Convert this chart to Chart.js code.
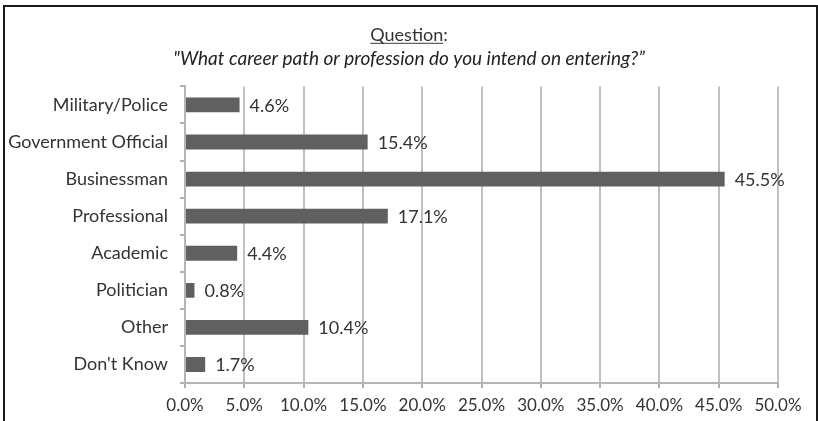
<!DOCTYPE html>
<html>
<head>
<meta charset="utf-8">
<script src="https://cdn.jsdelivr.net/npm/chart.js@4/dist/chart.umd.min.js"></script>
<style>
  html, body { margin: 0; padding: 0; background: #fff; }
  #wrap { position: relative; width: 818px; height: 421px; overflow: hidden; }
  #frame {
    position: absolute; left: 3px; top: 5px; width: 811px; height: 430px;
    border-left: 2px solid #1a1a1a; border-top: 2px solid #1a1a1a; border-right: 2px solid #1a1a1a;
    pointer-events: none;
  }
  canvas { position: absolute; left: 0; top: 0; }
</style>
</head>
<body>
<div id="wrap">
  <canvas id="c" width="818" height="421"></canvas>
  <div id="frame"></div>
</div>
<script>
// Survey answers, share of respondents (%)
const categories = ['Military/Police', 'Government Official', 'Businessman', 'Professional',
                    'Academic', 'Politician', 'Other', "Don't Know"];
const shares = [4.6, 15.4, 45.5, 17.1, 4.4, 0.8, 10.4, 1.7];
const titleText = 'Question:';
const subtitleText = '"What career path or profession do you intend on entering?\u201D';
const axisMax = 50;
const axisStep = 5;

const FONT = 'Lato, "Open Sans", sans-serif';
const TITLE_SIZE = 18;

// Center the title and subtitle on the whole canvas rather than the padded area
const centerTitles = {
  id: 'centerTitles',
  afterLayout(chart) {
    chart.boxes.forEach(box => {
      if (box.position === 'top' && box.options && box.options.text !== undefined) {
        box.left = 0;
        box.right = chart.width;
      }
    });
  }
};

// Value labels to the right of each bar
const valueLabels = {
  id: 'valueLabels',
  afterDatasetsDraw(chart) {
    const ctx = chart.ctx;
    const meta = chart.getDatasetMeta(0);
    ctx.save();
    ctx.font = '18px ' + FONT;
    ctx.fillStyle = '#333';
    ctx.textBaseline = 'middle';
    ctx.textAlign = 'left';
    meta.data.forEach((bar, i) => {
      ctx.fillText(shares[i].toFixed(1) + '%', bar.x + 10, bar.y + 1);
    });
    ctx.restore();
  }
};

// Underline beneath the word "Question"
const titleUnderline = {
  id: 'titleUnderline',
  afterDraw(chart) {
    const t = chart.titleBlock;
    if (!t) return;
    const ctx = chart.ctx;
    ctx.save();
    ctx.font = TITLE_SIZE + 'px ' + FONT;
    const word = titleText.replace(':', '');
    const full = ctx.measureText(titleText).width;
    const w = ctx.measureText(word).width;
    const x0 = (t.left + t.right) / 2 - full / 2;
    const y = t.top + t.height / 2 + 9;
    ctx.strokeStyle = '#3a3a3a';
    ctx.lineWidth = 1;
    ctx.beginPath();
    ctx.moveTo(x0, y + 0.5);
    ctx.lineTo(x0 + w, y + 0.5);
    ctx.stroke();
    ctx.restore();
  }
};

new Chart(document.getElementById('c'), {
  type: 'bar',
  data: {
    labels: categories,
    datasets: [{
      data: shares,
      backgroundColor: '#606060',
      borderWidth: 0,
      barPercentage: 0.4,
      categoryPercentage: 1
    }]
  },
  options: {
    indexAxis: 'y',
    responsive: false,
    animation: false,
    layout: { padding: { left: 0, right: 40, top: 20, bottom: 0 } },
    plugins: {
      legend: { display: false },
      tooltip: { enabled: false },
      title: {
        display: true,
        text: titleText,
        color: '#333',
        font: { family: FONT, size: TITLE_SIZE, weight: 'normal' },
        padding: { top: 4, bottom: 2 }
      },
      subtitle: {
        display: true,
        text: subtitleText,
        color: '#222',
        font: { family: FONT, size: 19, style: 'italic', weight: 'normal' },
        padding: { top: 0, bottom: 16 }
      }
    },
    scales: {
      x: {
        min: 0,
        max: axisMax,
        ticks: {
          stepSize: axisStep,
          color: '#333',
          font: { family: FONT, size: 17 },
          padding: 7,
          callback: v => v.toFixed(1) + '%'
        },
        grid: { color: '#c0c0c4', lineWidth: 2, tickLength: 5, tickColor: '#b0b0b0' },
        border: { display: true, color: '#b5b5b5', width: 2 },
        afterFit(s) { s.height = 38; }
      },
      y: {
        ticks: {
          color: '#333',
          font: { family: FONT, size: 18 },
          padding: 12
        },
        grid: { drawOnChartArea: false, offset: true, tickLength: 5, color: '#b0b0b0', lineWidth: 2 },
        border: { display: true, color: '#b5b5b5', width: 2 },
        afterFit(s) { s.width = 185; }
      }
    }
  },
  plugins: [centerTitles, valueLabels, titleUnderline]
});
</script>
</body>
</html>
